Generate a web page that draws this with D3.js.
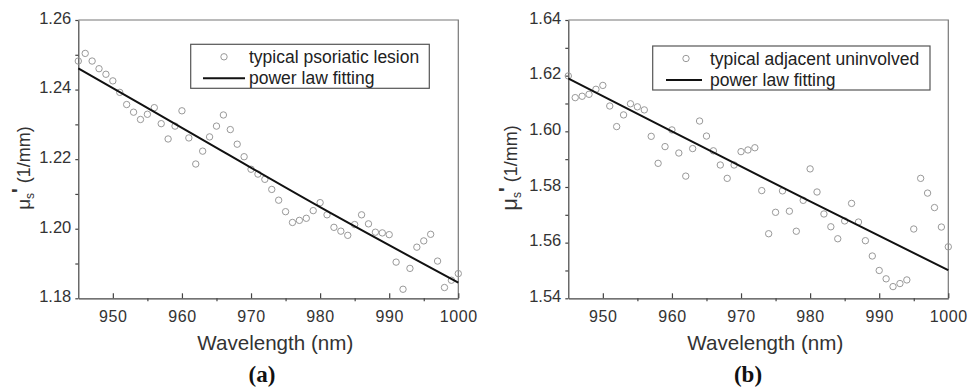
<!DOCTYPE html>
<html>
<head>
<meta charset="utf-8">
<script src="https://cdn.jsdelivr.net/npm/d3@7"></script>
<style>
  body { margin: 0; background: #fff; }
  text { font-family: "Liberation Sans", Arial, sans-serif; }
</style>
</head>
<body>
<svg id="chart" width="972" height="390"></svg>
<script>
// wavelengths (nm) for each measured point
var wavelengths = [945, 946, 947, 948, 949, 950, 951, 952, 953, 954, 955, 956, 957, 958,
  959, 960, 961, 962, 963, 964, 965, 966, 967, 968, 969, 970, 971, 972, 973, 974, 975,
  976, 977, 978, 979, 980, 981, 982, 983, 984, 985, 986, 987, 988, 989, 990, 991, 992,
  993, 994, 995, 996, 997, 998, 999, 1000];

var lesionValues = [1.2482, 1.2504, 1.2482, 1.2460, 1.2444, 1.2425, 1.2392, 1.2357, 1.2335,
  1.2314, 1.2329, 1.2348, 1.2302, 1.2258, 1.2295, 1.2339, 1.2261, 1.2186, 1.2223, 1.2264,
  1.2295, 1.2327, 1.2285, 1.2243, 1.2207, 1.2171, 1.2157, 1.2142, 1.2113, 1.2082, 1.2049,
  1.2018, 1.2024, 1.2030, 1.2052, 1.2075, 1.2040, 1.2004, 1.1993, 1.1981, 1.2012, 1.2040,
  1.2014, 1.1990, 1.1988, 1.1983, 1.1904, 1.1826, 1.1886, 1.1947, 1.1965, 1.1984, 1.1907,
  1.1831, 1.1852, 1.1871];

var uninvolvedValues = [1.6199, 1.6121, 1.6126, 1.6133, 1.6151, 1.6165, 1.6091, 1.6017,
  1.6059, 1.6099, 1.6088, 1.6077, 1.5982, 1.5885, 1.5945, 1.6005, 1.5922, 1.5839, 1.5938,
  1.6037, 1.5983, 1.5930, 1.5879, 1.5831, 1.5879, 1.5927, 1.5933, 1.5941, 1.5787, 1.5632,
  1.5709, 1.5786, 1.5713, 1.5641, 1.5752, 1.5865, 1.5782, 1.5703, 1.5657, 1.5614, 1.5678,
  1.5741, 1.5674, 1.5607, 1.5552, 1.5500, 1.5470, 1.5442, 1.5453, 1.5466, 1.5649, 1.5831,
  1.5778, 1.5726, 1.5656, 1.5585];

// power law fit
var fitWavelengths = [945, 960, 980, 1000];
var lesionFit = [1.2461, 1.2290, 1.2062, 1.1845];
var uninvolvedFit = [1.6190, 1.6000, 1.5748, 1.5501];

var xTicks = [950, 960, 970, 980, 990, 1000];
var lesionTicks = [1.18, 1.20, 1.22, 1.24, 1.26];
var uninvolvedTicks = [1.54, 1.56, 1.58, 1.60, 1.62, 1.64];

var svg = d3.select("#chart");

function panel(opt) {
  var x = d3.scaleLinear().domain([945, 1000]).range([opt.left, opt.left + 380]);
  var y = d3.scaleLinear().domain(opt.yDomain).range([298.3, 20]);
  var g = svg.append("g");

  // frame top/right
  g.append("path")
    .attr("d", "M" + x(945) + "," + y.range()[1] + "H" + x(1000) + "V" + y.range()[0])
    .attr("fill", "none").attr("stroke", "#777").attr("stroke-width", 1.2);

  // x axis: major ticks point in, minor ticks point out
  var xAxis = g.append("g").attr("transform", "translate(0,298.3)")
    .call(d3.axisBottom(x).tickValues(xTicks).tickSize(-5).tickSizeOuter(0).tickPadding(12)
      .tickFormat(d3.format("d")));
  xAxis.selectAll(".tick text").attr("font-size", 16).attr("fill", "#333")
    .attr("letter-spacing", 0.6);
  g.append("g").attr("transform", "translate(0,298.3)")
    .call(d3.axisBottom(x).tickValues([955, 965, 975, 985, 995]).tickSize(3).tickSizeOuter(0).tickFormat(""))
    .select(".domain").remove();

  var yAxis = g.append("g").attr("transform", "translate(" + x(945) + ",0)")
    .call(d3.axisLeft(y).tickValues(opt.yTicks).tickSize(3).tickSizeOuter(0).tickPadding(4)
      .tickFormat(d3.format(".2f")));
  yAxis.selectAll(".tick text").attr("font-size", 16.5).attr("fill", "#333").attr("dy", "0.2em");
  var minorY = opt.yTicks.slice(0, -1).map(function (d) { return d + 0.01; });
  g.append("g").attr("transform", "translate(" + x(945) + ",0)")
    .call(d3.axisLeft(y).tickValues(minorY).tickSize(3).tickSizeOuter(0).tickFormat(""))
    .select(".domain").remove();
  g.selectAll(".domain, .tick line").attr("stroke", "#444").attr("stroke-width", 1.2);

  // measured points
  g.selectAll("circle.pt")
    .data(opt.values)
    .enter().append("circle")
      .attr("class", "pt")
      .attr("cx", function (d, i) { return x(wavelengths[i]); })
      .attr("cy", function (d) { return y(d); })
      .attr("r", 3.2)
      .attr("fill", "none").attr("stroke", "#999").attr("stroke-width", 1);

  // fitted curve
  var line = d3.line()
    .x(function (d, i) { return x(fitWavelengths[i]); })
    .y(function (d) { return y(d); })
    .curve(d3.curveMonotoneX);
  g.append("path").datum(opt.fit)
    .attr("d", line)
    .attr("fill", "none").attr("stroke", "#111").attr("stroke-width", 2);

  // legend
  var L = opt.legend;
  g.append("rect").attr("x", L.x).attr("y", L.y).attr("width", L.w).attr("height", 44)
    .attr("fill", "#fff").attr("stroke", "#555").attr("stroke-width", 1.2);
  g.append("circle").attr("cx", L.sym).attr("cy", L.y + 12.5).attr("r", 3.2)
    .attr("fill", "none").attr("stroke", "#999");
  g.append("line").attr("x1", L.l1).attr("x2", L.l2).attr("y1", L.y + 34).attr("y2", L.y + 34)
    .attr("stroke", "#111").attr("stroke-width", 2);
  g.append("text").attr("x", L.tx).attr("y", L.y + 19).attr("font-size", 17.5).attr("fill", "#222")
    .text(opt.label);
  g.append("text").attr("x", L.tx).attr("y", L.y + 40).attr("font-size", 17.5).attr("fill", "#222")
    .text("power law fitting");

  // axis titles
  var cx = (x.range()[0] + x.range()[1]) / 2;
  g.append("text").attr("x", cx + 7).attr("y", 350).attr("text-anchor", "middle")
    .attr("font-size", 20.6).attr("fill", "#333").text("Wavelength (nm)");

  var yl = g.append("text")
    .attr("transform", "translate(" + opt.yLabelX + ",168) rotate(-90)")
    .attr("text-anchor", "middle").attr("font-size", 18).attr("fill", "#333");
  yl.append("tspan").attr("font-size", opt.muSize).text("\u03bc");
  yl.append("tspan").attr("font-size", 12).attr("dy", 4).text("s");
  yl.append("tspan").attr("font-size", 20).attr("font-weight", "bold").attr("dy", -8).text("'");
  yl.append("tspan").attr("dy", 4).text(" (1/mm)");

  g.append("text").attr("x", opt.capX).attr("y", 382).attr("text-anchor", "middle")
    .style("font-family", "'Liberation Serif', 'Times New Roman', serif").attr("font-weight", "bold")
    .attr("font-size", 23).attr("fill", "#111").text(opt.caption);
}

panel({
  left: 78.3, yDomain: [1.18, 1.26], yTicks: lesionTicks, values: lesionValues, fit: lesionFit,
  label: "typical psoriatic lesion", caption: "(a)", capX: 262, yLabelX: 30, muSize: 19,
  legend: { x: 190.7, y: 44.3, w: 238.6, sym: 224, l1: 203, l2: 245, tx: 249 }
});

panel({
  left: 568.3, yDomain: [1.54, 1.64], yTicks: uninvolvedTicks, values: uninvolvedValues, fit: uninvolvedFit,
  label: "typical adjacent uninvolved", caption: "(b)", capX: 748, yLabelX: 517, muSize: 22,
  legend: { x: 652.7, y: 46, w: 277.3, sym: 686, l1: 666, l2: 702, tx: 710 }
});
</script>
</body>
</html>
